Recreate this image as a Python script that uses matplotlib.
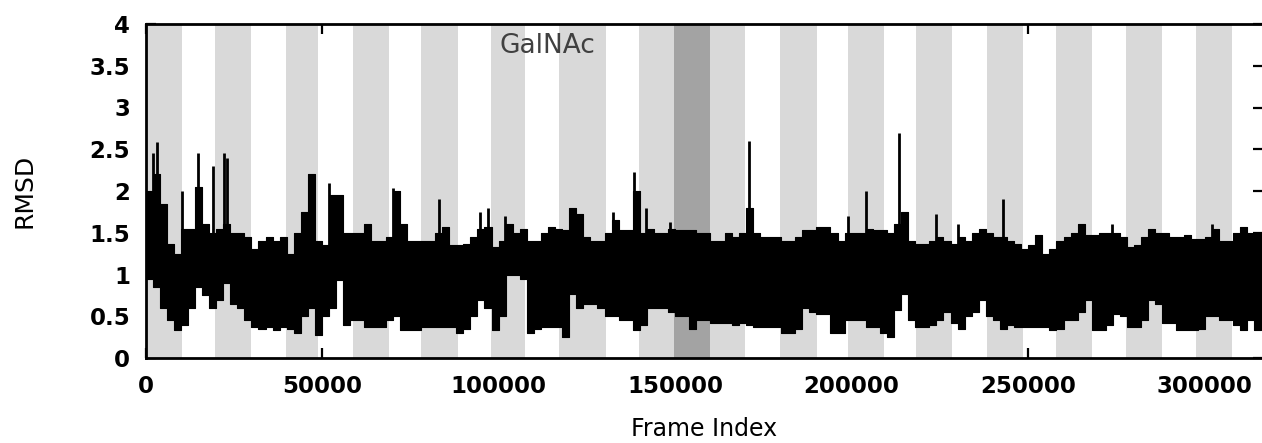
import numpy as np
import matplotlib.pyplot as plt

bin_width = 2000
rmsd_hi = [2.0, 2.2, 1.85, 1.37, 1.25, 1.55, 1.55, 2.05, 1.6, 1.5,
           1.55, 1.6, 1.5, 1.5, 1.45, 1.3, 1.4, 1.45, 1.4, 1.45,
           1.25, 1.5, 1.75, 2.2, 1.4, 1.35, 1.95, 1.95, 1.5, 1.5,
           1.5, 1.6, 1.4, 1.4, 1.45, 2.0, 1.6, 1.4, 1.4, 1.4,
           1.4, 1.5, 1.57, 1.35, 1.35, 1.37, 1.45, 1.55, 1.57, 1.33,
           1.4, 1.6, 1.5, 1.55, 1.4, 1.4, 1.5, 1.57, 1.55, 1.53,
           1.8, 1.73, 1.45, 1.4, 1.4, 1.5, 1.65, 1.53, 1.53, 2.0,
           1.5, 1.55, 1.5, 1.5, 1.55, 1.53, 1.53, 1.53, 1.5, 1.5,
           1.4, 1.4, 1.5, 1.45, 1.5, 1.8, 1.5, 1.45, 1.45, 1.45,
           1.4, 1.4, 1.45, 1.53, 1.53, 1.57, 1.57, 1.5, 1.4, 1.5,
           1.5, 1.5, 1.55, 1.53, 1.53, 1.5, 1.6, 1.75, 1.4, 1.37,
           1.37, 1.4, 1.45, 1.4, 1.37, 1.45, 1.4, 1.5, 1.55, 1.5,
           1.45, 1.45, 1.4, 1.37, 1.3, 1.35, 1.47, 1.25, 1.3, 1.4,
           1.45, 1.5, 1.6, 1.47, 1.47, 1.5, 1.5, 1.5, 1.45, 1.33,
           1.35, 1.45, 1.55, 1.5, 1.5, 1.45, 1.45, 1.47, 1.43, 1.43,
           1.45, 1.55, 1.4, 1.4, 1.5, 1.57, 1.5, 1.5]
rmsd_lo = [0.95, 0.85, 0.6, 0.45, 0.33, 0.4, 0.6, 0.85, 0.75, 0.6,
           0.7, 0.9, 0.65, 0.6, 0.45, 0.37, 0.35, 0.37, 0.33, 0.37,
           0.35, 0.3, 0.5, 0.6, 0.27, 0.5, 0.6, 0.93, 0.4, 0.45,
           0.45, 0.37, 0.37, 0.37, 0.45, 0.5, 0.33, 0.33, 0.33, 0.37,
           0.37, 0.37, 0.37, 0.37, 0.3, 0.35, 0.5, 0.7, 0.6, 0.33,
           0.5, 1.0, 1.0, 0.95, 0.3, 0.35, 0.37, 0.37, 0.37, 0.25,
           0.77, 0.6, 0.65, 0.65, 0.6, 0.5, 0.5, 0.45, 0.45, 0.33,
           0.4, 0.6, 0.6, 0.6, 0.55, 0.5, 0.5, 0.35, 0.45, 0.45,
           0.42, 0.42, 0.42, 0.4, 0.42, 0.4, 0.37, 0.37, 0.37, 0.37,
           0.3, 0.3, 0.35, 0.6, 0.55, 0.53, 0.53, 0.3, 0.3, 0.45,
           0.45, 0.45, 0.37, 0.37, 0.3, 0.25, 0.57, 0.77, 0.45, 0.37,
           0.37, 0.4, 0.45, 0.55, 0.42, 0.35, 0.5, 0.55, 0.7, 0.5,
           0.45, 0.35, 0.4, 0.37, 0.37, 0.37, 0.37, 0.37, 0.33, 0.35,
           0.45, 0.45, 0.55, 0.7, 0.33, 0.33, 0.4, 0.53, 0.5, 0.37,
           0.37, 0.45, 0.7, 0.65, 0.42, 0.42, 0.33, 0.33, 0.33, 0.35,
           0.5, 0.5, 0.45, 0.45, 0.4, 0.33, 0.45, 0.33]

# narrow spikes sticking out of the band
spike_frame = [2000, 3200, 10200, 15000, 19200, 22300, 23000, 52000, 70000,
               83000, 94700, 97000, 101800, 132500, 138300, 141800, 148500,
               171000, 199000, 204000, 213500, 223800, 230000, 243000,
               273700, 302000]
spike_top = [2.45, 2.59, 2.0, 2.45, 2.3, 2.45, 2.4, 2.1, 2.03,
             1.9, 1.75, 1.8, 1.7, 1.75, 2.23, 1.8, 1.63,
             2.6, 1.7, 2.0, 2.7, 1.72, 1.6, 1.9,
             1.6, 1.6]

# shaded segments
gray_start = [0, 19700, 39800, 58800, 78000, 97900, 117100, 139800, 160000,
              179800, 199000, 218300, 238400, 258000, 277800, 297600]
gray_end = [10200, 29900, 48900, 69000, 88400, 107600, 130500, 149800, 169800,
            190200, 209200, 228500, 248600, 268100, 288000, 307800]
dark_start, dark_end = 149800, 160000
x_max = 316500

fig = plt.figure(figsize=(12.62, 4.43), dpi=100)
ax = fig.add_axes([145.5 / 1262, 1 - 358 / 443, (1263 - 145.5) / 1262, 334 / 443])

for a, b in zip(gray_start, gray_end):
    ax.axvspan(a, b, color='#d9d9d9', lw=0, zorder=1)
ax.axvspan(dark_start, dark_end, color='#a3a3a3', lw=0, zorder=1)

edges = np.arange(len(rmsd_hi) + 1) * bin_width
hi = np.append(rmsd_hi, rmsd_hi[-1])
lo = np.append(rmsd_lo, rmsd_lo[-1])
ax.fill_between(edges, lo, hi, step='post', color='black', lw=0.8, zorder=2)
ax.vlines(spike_frame, 1.0, spike_top, color='black', lw=2, zorder=2)

ax.text(113700, 3.74, 'GalNAc', fontsize=19, color='#404040',
        ha='center', va='center', zorder=3)

ax.set_xlim(0, x_max)
ax.set_ylim(0, 4)
ax.set_xticks(np.arange(0, 300001, 50000))
ax.set_yticks(np.arange(0, 4.01, 0.5))
ax.set_yticklabels(['0', '0.5', '1', '1.5', '2', '2.5', '3', '3.5', '4'])
ax.set_axisbelow(True)
ax.tick_params(direction='in', length=7, width=1.6, top=True, right=True,
               labelsize=16.5)
ax.tick_params(axis='x', pad=12)
ax.tick_params(axis='y', pad=11)
for lbl in ax.get_xticklabels() + ax.get_yticklabels():
    lbl.set_fontweight('bold')
for s in ax.spines.values():
    s.set_linewidth(2)
    s.set_zorder(3)

ax.set_xlabel('Frame Index', fontsize=17, labelpad=14)
ax.set_ylabel('RMSD', fontsize=18, labelpad=38)

fig.savefig('out.png', dpi=100)
